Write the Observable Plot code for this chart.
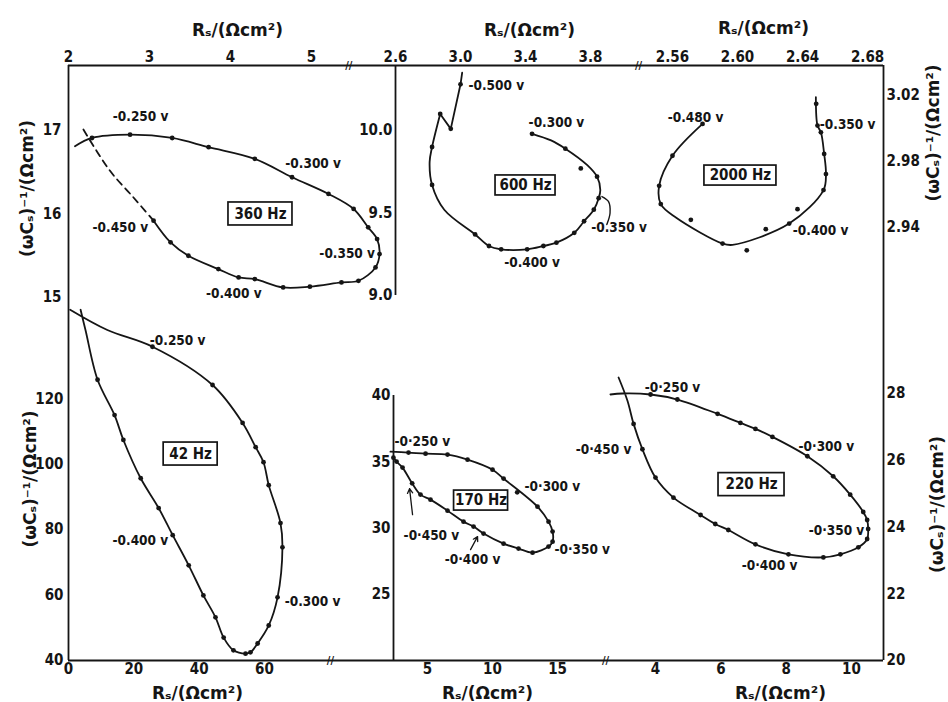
<!DOCTYPE html>
<html>
<head>
<meta charset="utf-8">
<script src="https://cdn.jsdelivr.net/npm/d3@7"></script>
<script src="https://cdn.jsdelivr.net/npm/@observablehq/plot@0.6"></script>
<style>
  body { margin: 0; background: #fff; }
  #chart { position: relative; width: 948px; height: 702px; overflow: hidden; background: #fff; }
  #chart svg { position: absolute; left: 0; top: 0; }
</style>
</head>
<body>
<div id="chart"></div>
<script>
// ---------------- DATA ----------------
// 360 Hz  (Rs, (wCs)^-1)
const rs360 = [2.08, 2.29, 2.76, 3.28, 3.73, 4.30, 4.76, 5.21, 5.52, 5.70, 5.81, 5.84, 5.79, 5.58, 5.37, 4.98, 4.65, 4.30, 4.10, 3.85, 3.48, 3.26, 3.05];
const xc360 = [16.81, 16.91, 16.95, 16.91, 16.80, 16.66, 16.44, 16.24, 16.06, 15.84, 15.70, 15.52, 15.36, 15.20, 15.18, 15.13, 15.12, 15.22, 15.24, 15.34, 15.50, 15.66, 15.92];
const rsDash360 = [3.05, 2.80, 2.51, 2.16];
const xcDash360 = [15.92, 16.20, 16.52, 17.05];
const lab360 = ["-0.250 v", "-0.300 v", "-0.450 v", "-0.350 v", "-0.400 v"];
const labX360 = [2.89, 5.02, 2.64, 5.44, 4.04];
const labY360 = [17.16, 16.60, 15.84, 15.53, 15.05];
const xTicks360 = [2, 3, 4, 5];
const yTicks360 = [15, 16, 17];

// 600 Hz
const rsZig600 = [3.01, 3.00, 2.94, 2.875];
const xcZig600 = [10.35, 10.28, 10.01, 10.10];
const rs600 = [2.875, 2.825, 2.81, 2.825, 2.90, 3.09, 3.175, 3.25, 3.41, 3.51, 3.59, 3.70, 3.76, 3.82, 3.85, 3.86, 3.84, 3.78, 3.645, 3.557, 3.44];
const xc600 = [10.10, 9.90, 9.81, 9.67, 9.52, 9.37, 9.30, 9.28, 9.28, 9.30, 9.32, 9.38, 9.45, 9.52, 9.59, 9.64, 9.72, 9.79, 9.89, 9.94, 9.98];
const rsPts600 = [3.00, 2.94, 2.875, 2.825, 2.825, 3.09, 3.175, 3.25, 3.41, 3.51, 3.59, 3.70, 3.76, 3.82, 3.85, 3.84, 3.645, 3.44, 3.74];
const xcPts600 = [10.28, 10.01, 10.10, 9.90, 9.67, 9.37, 9.30, 9.28, 9.28, 9.30, 9.32, 9.38, 9.45, 9.52, 9.59, 9.72, 9.89, 9.98, 9.77];
const rsLead600 = [3.87, 3.91, 3.92, 3.90];
const xcLead600 = [9.60, 9.57, 9.50, 9.43];
const lab600 = ["-0.500 v", "-0.300 v", "-0.350 v", "-0.400 v"];
const labX600 = [3.22, 3.59, 3.975, 3.44];
const labY600 = [10.27, 10.05, 9.41, 9.20];
const xTicks600 = [2.6, 3.0, 3.4, 3.8];
const yTicks600 = [9.0, 9.5, 10.0];

// 2000 Hz
const rs2000 = [2.5785, 2.56, 2.5518, 2.5528, 2.5621, 2.5908, 2.5969, 2.6318, 2.6529, 2.6544, 2.6533, 2.6513, 2.6492, 2.6482];
const xc2000 = [3.0028, 2.9835, 2.9653, 2.9542, 2.9461, 2.9303, 2.9295, 2.9424, 2.9627, 2.9724, 2.9846, 2.9977, 3.0018, 3.019];
const rsPts2000 = [2.5785, 2.56, 2.5518, 2.5528, 2.5908, 2.6318, 2.6529, 2.6544, 2.6533, 2.6513, 2.6492, 2.6484, 2.5713, 2.6174, 2.6369, 2.6057];
const xcPts2000 = [3.0028, 2.9835, 2.9653, 2.9542, 2.9303, 2.9424, 2.9627, 2.9724, 2.9846, 2.9977, 3.0018, 3.015, 2.9447, 2.939, 2.9511, 2.9262];
const lab2000 = ["-0.480 v", "-0.350 v", "-0.400 v"];
const labX2000 = [2.5742, 2.6677, 2.6511];
const labY2000 = [3.0067, 3.0024, 2.9382];
const xTicks2000 = [2.56, 2.60, 2.64, 2.68];
const yTicks2000 = [2.94, 2.98, 3.02];

// 42 Hz
const rs42 = [0.5, 11.9, 25.7, 44.1, 53.3, 57.3, 59.7, 61.3, 64.9, 65.5, 64.0, 61.3, 57.9, 55.7, 54.2, 50.5, 47.5, 45.0, 41.3, 36.8, 31.9, 27.6, 22.1, 16.8, 14.1, 8.9, 5.2, 3.7];
const xc42 = [147.2, 141, 135.9, 124.2, 112.6, 105.2, 100.6, 93.6, 82, 74.6, 59.3, 50.7, 45.2, 42.5, 42.1, 43.1, 47, 53.2, 59.9, 69.1, 78.3, 86.6, 95.7, 107.4, 115, 125.8, 141, 147.2];
const lab42 = ["-0.250 v", "-0.400 v", "-0.300 v"];
const labX42 = [33.4, 22.0, 74.7];
const labY42 = [137.8, 76.5, 58.1];
const xTicks42 = [0, 20, 40, 60];
const yTicks42 = [40, 60, 80, 100, 120];

// 170 Hz
const rs170 = [2.15, 3.54, 4.85, 6.54, 8.08, 10.0, 10.85, 13.46, 14.31, 14.62, 14.62, 14.31, 13.08, 12.0, 10.85, 9.31, 8.54, 7.77, 6.54, 5.23, 4.46, 3.82, 3.08, 2.62, 2.38];
const xc170 = [35.76, 35.69, 35.61, 35.54, 35.16, 34.40, 33.73, 31.61, 30.48, 29.73, 28.97, 28.60, 28.14, 28.45, 28.82, 29.58, 30.11, 30.48, 31.31, 32.14, 32.52, 33.37, 34.56, 35.01, 35.31];
const lab170 = ["-0·250 v", "-0·300 v", "-0·450 v", "-0·400 v", "-0·350 v"];
const labX170 = [4.6, 14.6, 5.3, 8.46, 16.9];
const labY170 = [36.52, 33.12, 29.43, 27.62, 28.37];
const arrowFromX170 = [3.85, 8.31];
const arrowFromY170 = [31.01, 28.37];
const arrowToX170 = [3.62, 8.85];
const arrowToY170 = [32.97, 29.35];
const xTicks170 = [5, 10, 15];
const yTicks170 = [25, 30, 35, 40];

// 220 Hz
const rs220 = [2.62, 2.99, 3.85, 4.67, 5.90, 6.60, 7.06, 7.58, 8.65, 9.44, 9.96, 10.36, 10.48, 10.51, 10.48, 10.21, 9.66, 9.14, 8.07, 7.06, 6.23, 5.83, 5.38, 4.55, 4.0, 3.60, 3.33, 3.14, 2.87];
const xc220 = [27.97, 28.0, 27.97, 27.82, 27.39, 27.12, 26.94, 26.70, 26.12, 25.52, 24.97, 24.45, 24.21, 23.94, 23.64, 23.39, 23.18, 23.09, 23.18, 23.48, 23.91, 24.09, 24.36, 24.88, 25.48, 26.33, 27.09, 27.79, 28.48];
const lab220 = ["-0·250 v", "-0·300 v", "-0·350 v", "-0·400 v", "-0·450 v"];
const labX220 = [4.52, 9.23, 9.54, 7.49, 2.41];
const labY220 = [28.18, 26.42, 23.88, 22.85, 26.33];
const xTicks220 = [4, 6, 8, 10];
const yTicks220 = [20, 22, 24, 26, 28];

// frequency boxes: [label, Rs, (wCs)^-1]
const freqLabels = ["360 Hz", "600 Hz", "2000 Hz", "42 Hz", "170 Hz", "220 Hz"];
const freqX = [4.37, 3.40, 2.6018, 37.4, 9.12, 6.94];
const freqY = [16.0, 9.667, 2.9715, 103.1, 32.07, 25.27];

const xTitle = "Rₛ/(Ωcm²)";
const yTitle = "(ωCₛ)⁻¹/(Ωcm²)";

// ---------------- DRAWING ----------------
const W = 948, H = 702;
const INK = "#151515";
const FONT = "'DejaVu Sans Condensed','DejaVu Sans',sans-serif";
const TFONT = "'DejaVu Sans',sans-serif";
const chart = document.getElementById("chart");

function panel(box, xDomain, yDomain, marks) {
  const [L, T, R, B] = box;
  const svg = Plot.plot({
    width: W, height: H,
    marginLeft: L, marginTop: T, marginRight: W - R, marginBottom: H - B,
    x: {domain: xDomain}, y: {domain: yDomain},
    style: {background: "transparent", fontFamily: FONT, fontSize: "13px", color: INK, overflow: "visible"},
    marks
  });
  chart.append(svg);
}

const intFmt = d3.format("d");
const axisStyle = {stroke: INK, strokeWidth: 1.8};
const tickText = {fontSize: 15, fontWeight: "bold", fill: INK, stroke: null};
const curve = (xs, ys, extra = {}) => Plot.line(xs, {x: xs, y: ys, curve: "catmull-rom", stroke: INK, strokeWidth: 1.8, ...extra});
const dots = (xs, ys) => Plot.dot(xs, {x: xs, y: ys, r: 2.4, fill: INK, stroke: null});
const labels = (txt, xs, ys, size = 13.5) => Plot.text(txt, {x: xs, y: ys, text: d => d, fontSize: size, fontWeight: "bold", fill: INK});
const title = (opts) => Plot.text([opts.rotate ? yTitle : xTitle], {text: d => d, fontSize: 17, fontWeight: "bold", fontFamily: TFONT, fill: INK, textAnchor: "middle", lineAnchor: "middle", ...opts});
function freqBox(i, w, h) {
  return [
    Plot.rect([i], {x1: () => freqX[i], x2: () => freqX[i], y1: () => freqY[i], y2: () => freqY[i],
      insetLeft: -w / 2, insetRight: -w / 2, insetTop: -h / 2, insetBottom: -h / 2,
      fill: "white", stroke: INK, strokeWidth: 1.7}),
    Plot.text([freqLabels[i]], {x: () => freqX[i], y: () => freqY[i], text: d => d, fontSize: 15, fontWeight: "bold", fill: INK})
  ];
}
const brk = (opts) => Plot.text(["//"], {text: d => d, fontSize: 11, fontWeight: "bold", fill: INK, textAnchor: "middle", lineAnchor: "middle", ...opts});

// domains
const dx360 = [2, 6.037], dy360 = [14.904, 17.778];
const dx600 = [2.6, 4.095], dy600 = [9.0, 10.394];
const dx2000 = [2.5391, 2.6898], dy2000 = [2.8776, 3.0382];
const dx42 = [0, 99.5], dy42 = [40, 148.5];
const dx170 = [2.385, 18.69], dy170 = [20, 40];
const dx220 = [2.470, 10.98], dy220 = [20, 29.888];

// 360 Hz
panel([68, 65, 395, 305], dx360, dy360, [
  Plot.ruleY([dy360[1]], axisStyle),
  Plot.ruleX([dx360[0]], axisStyle),
  Plot.axisX({anchor: "top", ticks: xTicks360, tickFormat: intFmt, tickSize: -6, tickPadding: 10, label: null, ...tickText}),
  Plot.axisY({anchor: "left", ticks: yTicks360, tickFormat: intFmt, tickSize: 5, tickPadding: 2, label: null, ...tickText}),
  brk({x: [5.46], frameAnchor: "top"}),
  curve(rs360, xc360),
  curve(rsDash360, xcDash360, {strokeDasharray: "7,5"}),
  dots(rs360.slice(1), xc360.slice(1)),
  labels(lab360, labX360, labY360),
  ...freqBox(0, 64, 23),
  title({frameAnchor: "top", dx: 5.5, dy: -35}),
  title({frameAnchor: "left", rotate: -90, dx: -41, dy: 3})
]);

// 600 Hz
panel([395, 65, 638, 295], dx600, dy600, [
  Plot.ruleY([dy600[1]], axisStyle),
  Plot.ruleX([dx600[0]], axisStyle),
  Plot.axisX({anchor: "top", ticks: xTicks600, tickSize: -6, tickPadding: 10, tickFormat: d3.format(".1f"), label: null, ...tickText}),
  Plot.axisY({anchor: "left", ticks: yTicks600, tickSize: -6, tickPadding: 9, tickFormat: d3.format(".1f"), label: null, ...tickText}),
  brk({frameAnchor: "top-right"}),
  Plot.line(rsZig600, {x: rsZig600, y: xcZig600, stroke: INK, strokeWidth: 1.8}),
  curve(rs600, xc600),
  curve(rsLead600, xcLead600, {strokeWidth: 1.4}),
  dots(rsPts600, xcPts600),
  labels(lab600, labX600, labY600),
  ...freqBox(1, 60, 20),
  title({frameAnchor: "top", dx: 12.5, dy: -35})
]);

// 2000 Hz
panel([638, 65, 883, 330], dx2000, dy2000, [
  Plot.ruleY([dy2000[1]], axisStyle),
  Plot.ruleX([dx2000[1]], axisStyle),
  Plot.axisX({anchor: "top", ticks: xTicks2000, tickSize: -6, tickPadding: 10, tickFormat: d3.format(".2f"), label: null, ...tickText}),
  Plot.axisY({anchor: "right", ticks: yTicks2000, tickSize: -8, tickPadding: 11, tickFormat: d3.format(".2f"), label: null, ...tickText}),
  curve(rs2000, xc2000),
  dots(rsPts2000, xcPts2000),
  labels(lab2000, labX2000, labY2000),
  ...freqBox(2, 72, 20),
  title({frameAnchor: "top", dx: 2.5, dy: -37}),
  title({frameAnchor: "right", rotate: -90, dx: 50, dy: -65})
]);

// 42 Hz
panel([68, 305, 393, 660], dx42, dy42, [
  Plot.ruleY([dy42[0]], axisStyle),
  Plot.ruleX([dx42[0]], axisStyle),
  Plot.axisX({anchor: "bottom", ticks: xTicks42, tickFormat: intFmt, tickSize: -6, tickPadding: 9, label: null, ...tickText}),
  Plot.axisY({anchor: "left", ticks: yTicks42, tickFormat: intFmt, tickSize: 4, tickPadding: 1, label: null, ...tickText}),
  brk({x: [80.2], frameAnchor: "bottom"}),
  curve(rs42, xc42),
  dots(rs42.slice(2, 26), xc42.slice(2, 26)),
  labels(lab42, labX42, labY42),
  ...freqBox(3, 54, 23),
  title({frameAnchor: "bottom", dx: -33.5, dy: 33}),
  title({frameAnchor: "left", rotate: -90, dx: -38, dy: -4})
]);

// 170 Hz
panel([393, 395, 605, 660], dx170, dy170, [
  Plot.ruleY([dy170[0]], axisStyle),
  Plot.ruleX([dx170[0]], axisStyle),
  Plot.axisX({anchor: "bottom", ticks: xTicks170, tickFormat: intFmt, tickSize: -6, tickPadding: 9, label: null, ...tickText}),
  Plot.axisY({anchor: "left", ticks: yTicks170, tickFormat: intFmt, tickSize: -6, tickPadding: 9, label: null, ...tickText}),
  brk({frameAnchor: "bottom-right"}),
  curve(rs170, xc170),
  dots(rs170.slice(1), xc170.slice(1)),
  dots([11.9], [32.69]),
  Plot.arrow(arrowFromX170, {x1: arrowFromX170, y1: arrowFromY170, x2: arrowToX170, y2: arrowToY170, stroke: INK, strokeWidth: 1.3, headLength: 6}),
  labels(lab170, labX170, labY170),
  ...freqBox(4, 54, 20),
  title({frameAnchor: "bottom", dx: -12, dy: 33})
]);

// 220 Hz
panel([605, 330, 883, 660], dx220, dy220, [
  Plot.ruleY([dy220[0]], axisStyle),
  Plot.ruleX([dx220[1]], axisStyle),
  Plot.axisX({anchor: "bottom", ticks: xTicks220, tickFormat: intFmt, tickSize: -6, tickPadding: 9, label: null, ...tickText}),
  Plot.axisY({anchor: "right", ticks: yTicks220, tickFormat: intFmt, tickSize: -8, tickPadding: 11, label: null, ...tickText}),
  curve(rs220, xc220),
  dots(rs220.slice(2, 27), xc220.slice(2, 27)),
  labels(lab220, labX220, labY220),
  ...freqBox(5, 66, 23),
  title({frameAnchor: "bottom", dx: 36, dy: 33}),
  title({frameAnchor: "right", rotate: -90, dx: 54, dy: 9})
]);
</script>
</body>
</html>
